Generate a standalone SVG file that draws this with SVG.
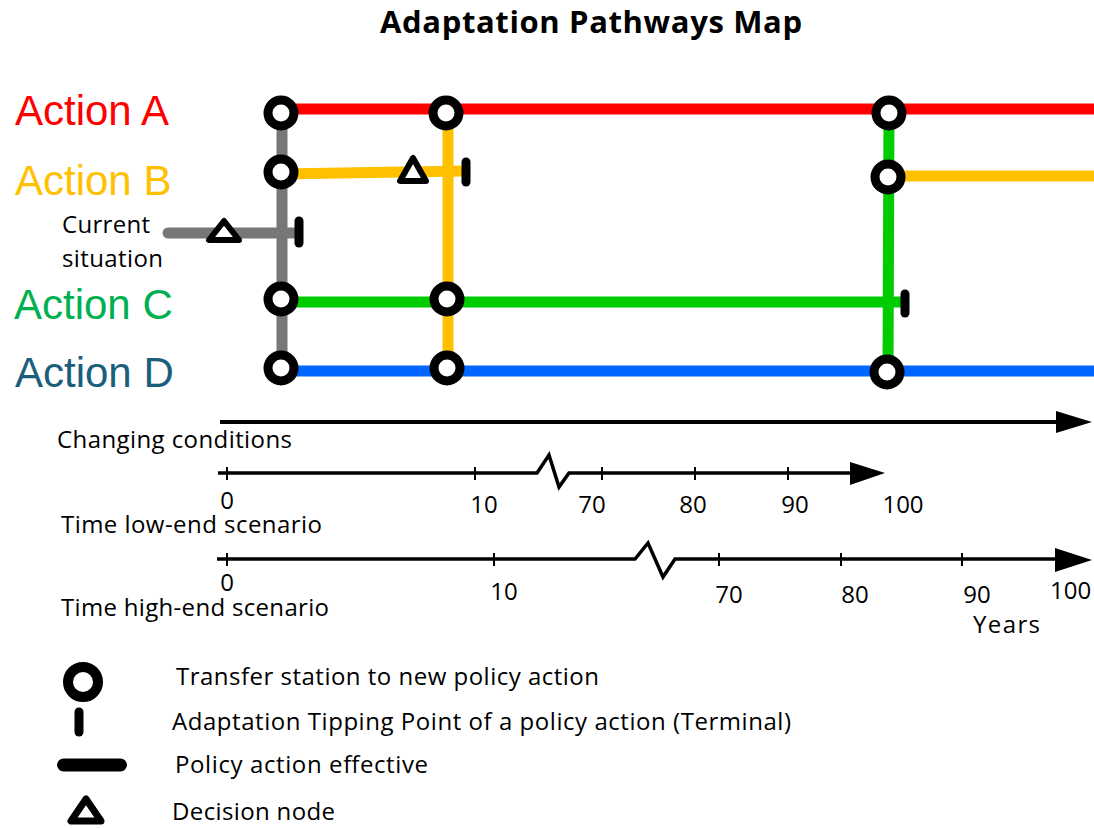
<svg xmlns="http://www.w3.org/2000/svg" width="1094" height="828" viewBox="0 0 1094 828">
<defs>
<style>
.t{font-family:"Open Sans","Noto Sans","Liberation Sans",sans-serif;font-size:24px;fill:#000}
.act{font-family:"Liberation Sans",Arial,sans-serif;font-size:42px}
.num{font-family:"Open Sans","Noto Sans","Liberation Sans",sans-serif;font-size:24px;fill:#000;text-anchor:middle}
.ln{fill:none;stroke-width:11}
.st{fill:#fff;stroke:#000;stroke-width:9}
.tip{stroke:#000;stroke-width:9;stroke-linecap:round}
.tri{fill:#fff;stroke:#000;stroke-width:6;stroke-linejoin:round}
.ax{fill:none;stroke:#000;stroke-width:3.5}
.tk{stroke:#000;stroke-width:2}
</style>
</defs>
<rect width="1094" height="828" fill="#fff"/>
<text x="380" y="33" font-family="'Open Sans','Noto Sans',sans-serif" font-size="31" font-weight="bold" textLength="422">Adaptation Pathways Map</text>

<g id="labels">
<text class="act" x="15" y="125" fill="#FF0000">Action A</text>
<text class="act" x="15" y="195" fill="#FFC000">Action B</text>
<text class="act" x="14" y="319" fill="#00B050">Action C</text>
<text class="act" x="15" y="387" fill="#1A5E7C">Action D</text>
<text class="t" x="62" y="233" textLength="88">Current</text>
<text class="t" x="62" y="267" textLength="101">situation</text>
</g>

<g id="connectors">
<line class="ln" x1="282" y1="109" x2="1094" y2="109" stroke="#FF0000"/>
<line class="ln" x1="888" y1="176" x2="1094" y2="176" stroke="#FFC000"/>
<line class="ln" x1="281" y1="371" x2="1094" y2="371" stroke="#0066FF"/>
<line class="ln" x1="282" y1="113" x2="282" y2="367" stroke="#777777"/>
<line class="ln" x1="168" y1="233" x2="296" y2="233" stroke="#777777" stroke-linecap="round"/>
<line class="ln" x1="281" y1="174" x2="463" y2="171" stroke="#FFC000"/>
<line class="ln" x1="448" y1="113" x2="448" y2="368" stroke="#FFC000"/>
<line class="ln" x1="281" y1="302" x2="902" y2="302" stroke="#00CC00"/>
<line class="ln" x1="889" y1="113" x2="888" y2="372" stroke="#00CC00"/>
</g>

<g id="tipping-current"><line class="tip" x1="299" y1="221" x2="299" y2="243"/></g>
<g id="tipping-b"><line class="tip" x1="466" y1="162" x2="466" y2="182"/></g>
<g id="tipping-c"><line class="tip" x1="905" y1="294" x2="905" y2="313"/></g>

<g id="decision-current"><polygon class="tri" points="224,221 209,240 239,240"/></g>
<g id="decision-b"><polygon class="tri" points="413,158 400,181 426,181"/></g>

<g id="station-a1"><circle class="st" cx="281" cy="113" r="13"/></g>
<g id="station-b1"><circle class="st" cx="281" cy="172" r="13"/></g>
<g id="station-c1"><circle class="st" cx="281" cy="299" r="13"/></g>
<g id="station-d1"><circle class="st" cx="281" cy="368" r="13"/></g>
<g id="station-a2"><circle class="st" cx="446" cy="113" r="13"/></g>
<g id="station-c2"><circle class="st" cx="447" cy="299" r="13"/></g>
<g id="station-d2"><circle class="st" cx="447" cy="368" r="13"/></g>
<g id="station-a3"><circle class="st" cx="889" cy="113" r="13"/></g>
<g id="station-b3"><circle class="st" cx="888" cy="177" r="13"/></g>
<g id="station-d3"><circle class="st" cx="887" cy="372" r="13"/></g>

<g id="axis-conditions">
<line x1="220" y1="422" x2="1060" y2="422" stroke="#000" stroke-width="4"/>
<polygon points="1056,411 1092,422 1056,433" fill="#000"/>
<text class="t" x="57" y="448" textLength="235">Changing conditions</text>
</g>

<g id="axis-low">
<polyline class="ax" points="218,473 537,473 549,455 559,487 569,473 852,473"/>
<polygon points="850,462 885,473 850,485" fill="#000"/>
<line class="tk" x1="227" y1="467" x2="227" y2="480"/>
<line class="tk" x1="475" y1="467" x2="475" y2="480"/>
<line class="tk" x1="602" y1="467" x2="602" y2="480"/>
<line class="tk" x1="695" y1="467" x2="695" y2="480"/>
<line class="tk" x1="788" y1="467" x2="788" y2="480"/>
<text class="num" x="227" y="509">0</text>
<text class="num" x="484" y="513">10</text>
<text class="num" x="592" y="513">70</text>
<text class="num" x="693" y="513">80</text>
<text class="num" x="795" y="513">90</text>
<text class="num" x="903" y="513">100</text>
<text class="t" x="61" y="533" textLength="261">Time low-end scenario</text>
</g>

<g id="axis-high">
<polyline class="ax" points="217,559 635,559 648,543 663,577 675,559 1058,559"/>
<polygon points="1055,548 1092,560 1055,572" fill="#000"/>
<line class="tk" x1="227" y1="553" x2="227" y2="566"/>
<line class="tk" x1="494" y1="553" x2="494" y2="566"/>
<line class="tk" x1="719" y1="553" x2="719" y2="566"/>
<line class="tk" x1="841" y1="553" x2="841" y2="566"/>
<line class="tk" x1="962" y1="553" x2="962" y2="566"/>
<text class="num" x="227" y="591">0</text>
<text class="num" x="504" y="600">10</text>
<text class="num" x="729" y="603">70</text>
<text class="num" x="855" y="603">80</text>
<text class="num" x="977" y="603">90</text>
<text class="t" x="1050" y="599">100</text>
<text class="t" x="973" y="633" textLength="67">Years</text>
<text class="t" x="61" y="616" textLength="268">Time high-end scenario</text>
</g>

<g id="legend-station">
<circle cx="83" cy="682" r="15" fill="#fff" stroke="#000" stroke-width="10"/>
<text class="t" x="176" y="685" textLength="423">Transfer station to new policy action</text>
</g>
<g id="legend-tipping">
<line x1="79" y1="712" x2="79" y2="732" stroke="#000" stroke-width="9" stroke-linecap="round"/>
<text class="t" x="172" y="730" textLength="619">Adaptation Tipping Point of a policy action (Terminal)</text>
</g>
<g id="legend-effective">
<line x1="63.5" y1="765" x2="120.5" y2="765" stroke="#000" stroke-width="13" stroke-linecap="round"/>
<text class="t" x="175" y="773" textLength="253">Policy action effective</text>
</g>
<g id="legend-decision">
<polygon points="86,799 71,821 101,821" fill="#fff" stroke="#000" stroke-width="7" stroke-linejoin="round"/>
<text class="t" x="172" y="820" textLength="163">Decision node</text>
</g>
</svg>
